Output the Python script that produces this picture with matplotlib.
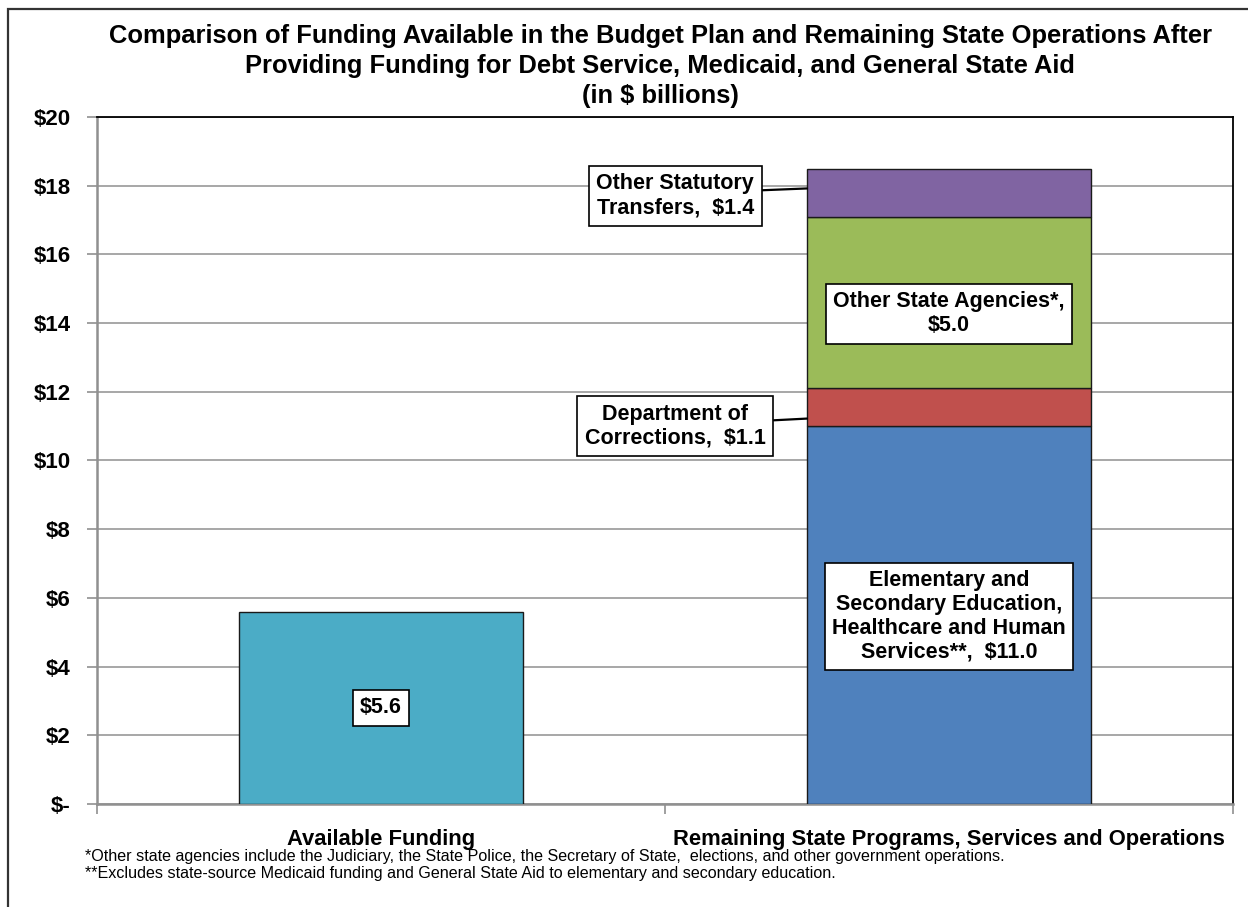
import matplotlib
matplotlib.use('Agg')
import matplotlib.pyplot as plt
from matplotlib.patches import Rectangle

plt.rcParams['font.family'] = ['Liberation Sans', 'DejaVu Sans']

categories = ['Available Funding', 'Remaining State Programs, Services and Operations']
available_funding = 5.6
segment_names = ['Elementary and\nSecondary Education,\nHealthcare and Human\nServices**,  ',
                 'Department of\nCorrections,  ',
                 'Other State Agencies*,\n',
                 'Other Statutory\nTransfers,  ']
segment_values = [11.0, 1.1, 5.0, 1.4]
segment_colors = ['#4F81BD', '#C0504D', '#9BBB59', '#8064A2']
yticks = list(range(0, 21, 2))
ytick_labels = ['$-'] + ['$%d' % v for v in yticks[1:]]
footnotes = ['*Other state agencies include the Judiciary, the State Police, the Secretary of State,  elections, and other government operations.',
             '**Excludes state-source Medicaid funding and General State Aid to elementary and secondary education.']

title = ('Comparison of Funding Available in the Budget Plan and Remaining State Operations After\n'
         'Providing Funding for Debt Service, Medicaid, and General State Aid\n'
         '(in $ billions)')

fig = plt.figure(figsize=(12.48, 9.07), dpi=100)
ax = fig.add_axes([0.0777, 0.1136, 0.9103, 0.7574])

edge = '#1a1a1a'
box = dict(boxstyle='square,pad=0.35', fc='white', ec='black', lw=1.2)
width = 0.5
lab_fs = 15.5

# single bar on the left
ax.bar(0, available_funding, width, color='#4BACC6', edgecolor=edge, lw=1, zorder=3)
ax.text(0, available_funding / 2, '$%.1f' % available_funding, ha='center', va='center',
        fontsize=lab_fs, fontweight='bold', bbox=dict(box, pad=0.33), zorder=5)

# stacked bar on the right
bottom = 0
mids = []
for val, col in zip(segment_values, segment_colors):
    ax.bar(1, val, width, bottom=bottom, color=col, edgecolor=edge, lw=1, zorder=3)
    mids.append(bottom + val / 2)
    bottom += val

labels = ['%s$%.1f' % (n, v) for n, v in zip(segment_names, segment_values)]

ax.text(1, mids[0] - 0.04, labels[0], ha='center', va='center', fontsize=lab_fs,
        fontweight='bold', bbox=dict(box, pad=0.3), zorder=5, linespacing=1.18)
ax.text(1, mids[2] - 0.33, labels[2], ha='center', va='center', fontsize=lab_fs,
        fontweight='bold', bbox=dict(box, pad=0.3), zorder=5, linespacing=1.2)

# side labels with leader lines
for i, ty in [(1, mids[1] - 0.55), (3, mids[3] - 0.1)]:
    ax.annotate(labels[i], xy=(1 - width / 2, ty + 0.22), xytext=(0.518, ty),
                ha='center', va='center', fontsize=lab_fs, fontweight='bold',
                bbox=dict(box, pad=0.25), linespacing=1.2, zorder=5,
                arrowprops=dict(arrowstyle='-', color='black', lw=1.6,
                                shrinkA=0, shrinkB=0, relpos=(1, 0.62)))

ax.set_xlim(-0.5, 1.5)
ax.set_ylim(0, 20)
ax.set_yticks(yticks)
ax.set_yticklabels(ytick_labels, fontsize=16, fontweight='bold')
ax.yaxis.grid(True, color='#a0a0a0', lw=1.3, zorder=0)
ax.set_axisbelow(True)

ax.set_xticks([0, 1])
ax.set_xticklabels(categories, fontsize=15.8, fontweight='bold')
ax.set_xticks([-0.5, 0.5, 1.5], minor=True)
ax.tick_params(axis='x', which='major', length=0, pad=18)
ax.tick_params(axis='x', which='minor', length=7, color='#909090', width=1.2)
ax.tick_params(axis='y', length=7, color='#909090', width=1.2, pad=12)

for s in ['left', 'bottom']:
    ax.spines[s].set_color('#909090')
    ax.spines[s].set_linewidth(1.8)
for s in ['top', 'right']:
    ax.spines[s].set_color('black')
    ax.spines[s].set_linewidth(1.3)

fig.text(0.529, 0.927, title, ha='center', va='center', fontsize=18.4,
         fontweight='bold', linespacing=1.32)

fig.text(0.068, 0.056, footnotes[0], fontsize=11.6, va='center')
fig.text(0.068, 0.037, footnotes[1], fontsize=11.6, va='center')

# outer frame
fig.add_artist(Rectangle((0.0065, -0.05), 1.05, 1.04, transform=fig.transFigure,
                         fill=False, ec='#333333', lw=1.6))

fig.savefig('out.png', dpi=100)
